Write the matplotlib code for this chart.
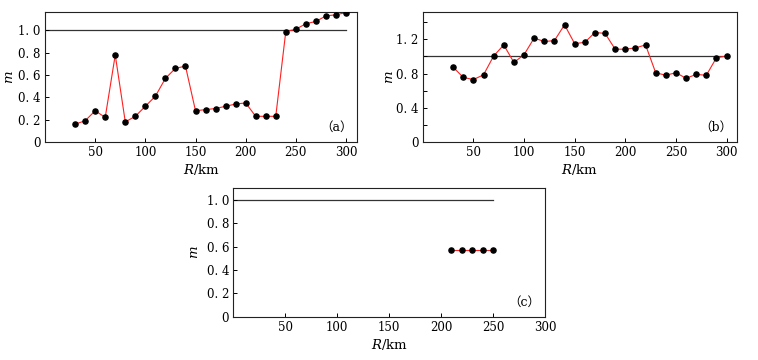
import matplotlib
matplotlib.use("Agg")
import matplotlib.pyplot as plt
from matplotlib.ticker import FixedLocator, FuncFormatter

# ---------------- data ----------------
R_a = [30, 40, 50, 60, 70, 80, 90, 100, 110, 120, 130, 140, 150, 160, 170,
       180, 190, 200, 210, 220, 230, 240, 250, 260, 270, 280, 290, 300]
m_a = [0.16, 0.19, 0.28, 0.22, 0.78, 0.18, 0.23, 0.32, 0.41, 0.57, 0.66, 0.68,
       0.28, 0.29, 0.30, 0.32, 0.34, 0.35, 0.23, 0.23, 0.23, 0.99, 1.01, 1.06,
       1.08, 1.13, 1.14, 1.16]

R_b = R_a
m_b = [0.875, 0.755, 0.73, 0.785, 1.005, 1.135, 0.93, 1.02, 1.215, 1.175,
       1.185, 1.37, 1.15, 1.165, 1.28, 1.27, 1.085, 1.085, 1.10, 1.135,
       0.81, 0.78, 0.81, 0.745, 0.79, 0.78, 0.985, 1.005]

R_c = [210, 220, 230, 240, 250]
m_c = [0.57, 0.57, 0.57, 0.57, 0.57]

ref_a = [0, 300]
ref_b = [0, 300]
ref_c = [0, 250]
ref_m = [1.0, 1.0]

x_ticks = [50, 100, 150, 200, 250, 300]
y_ticks_a = [0, 0.2, 0.4, 0.6, 0.8, 1.0]
y_ticks_b = [0, 0.4, 0.8, 1.2]
y_minor_b = [0.2, 0.6, 1.0, 1.4]
y_ticks_c = [0, 0.2, 0.4, 0.6, 0.8, 1.0]
panel_labels = ["（a）", "（b）", "（c）"]

# ---------------- style ----------------
plt.rcParams['font.family'] = ['DejaVu Serif', 'Noto Sans CJK SC']
plt.rcParams['mathtext.fontset'] = 'dejavuserif'
FS = 8.5


def yfmt(v, pos):
    if abs(v) < 1e-9:
        return "0"
    s = f"{v:.1f}"
    return s.replace(".", ". ")


fig = plt.figure(figsize=(7.58, 3.6), dpi=100)

axes_pos = [
    [0.0594, 0.6056, 0.4116, 0.3611],
    [0.5577, 0.6056, 0.4142, 0.3611],
    [0.3078, 0.1203, 0.4112, 0.3566],
]
ylabel_x = [-0.092, -0.084, -0.105]
datasets = [
    (R_a, m_a, ref_a, (0, 311), (0, 1.165), y_ticks_a, None),
    (R_b, m_b, ref_b, (0, 310), (0, 1.52), y_ticks_b, y_minor_b),
    (R_c, m_c, ref_c, (0, 300), (0, 1.1), y_ticks_c, None),
]

for i, (pos, (R, m, ref, xl, yl, yt, ymin)) in enumerate(zip(axes_pos, datasets)):
    ax = fig.add_axes(pos)
    ax.plot(ref, ref_m, color='#333333', lw=0.9, zorder=1)
    ax.plot(R, m, color='#ff2020', lw=0.8, zorder=2)
    ax.plot(R, m, 'o', color='black', ms=3.7, zorder=3)
    ax.set_xlim(*xl)
    ax.set_ylim(*yl)
    ax.xaxis.set_major_locator(FixedLocator(x_ticks))
    ax.yaxis.set_major_locator(FixedLocator(yt))
    ax.yaxis.set_major_formatter(FuncFormatter(yfmt))
    if ymin is not None:
        ax.yaxis.set_minor_locator(FixedLocator(ymin))
        ax.tick_params(axis='y', which='minor', direction='in', length=3,
                       width=0.7)
    ax.tick_params(axis='both', which='major', direction='in', length=3,
                   width=0.7, labelsize=FS, pad=3)
    for sp in ax.spines.values():
        sp.set_linewidth(0.8)
        sp.set_color('#222222')
    ax.set_ylabel(r"$m$", fontsize=FS + 1)
    ax.yaxis.set_label_coords(ylabel_x[i], 0.5)
    ax.set_xlabel(r"$R$/km", fontsize=FS + 1, labelpad=2)
    ax.text(0.935, 0.115, panel_labels[i], transform=ax.transAxes,
            ha='center', va='center', fontsize=FS + 0.5)

fig.savefig("out.png", dpi=100)
